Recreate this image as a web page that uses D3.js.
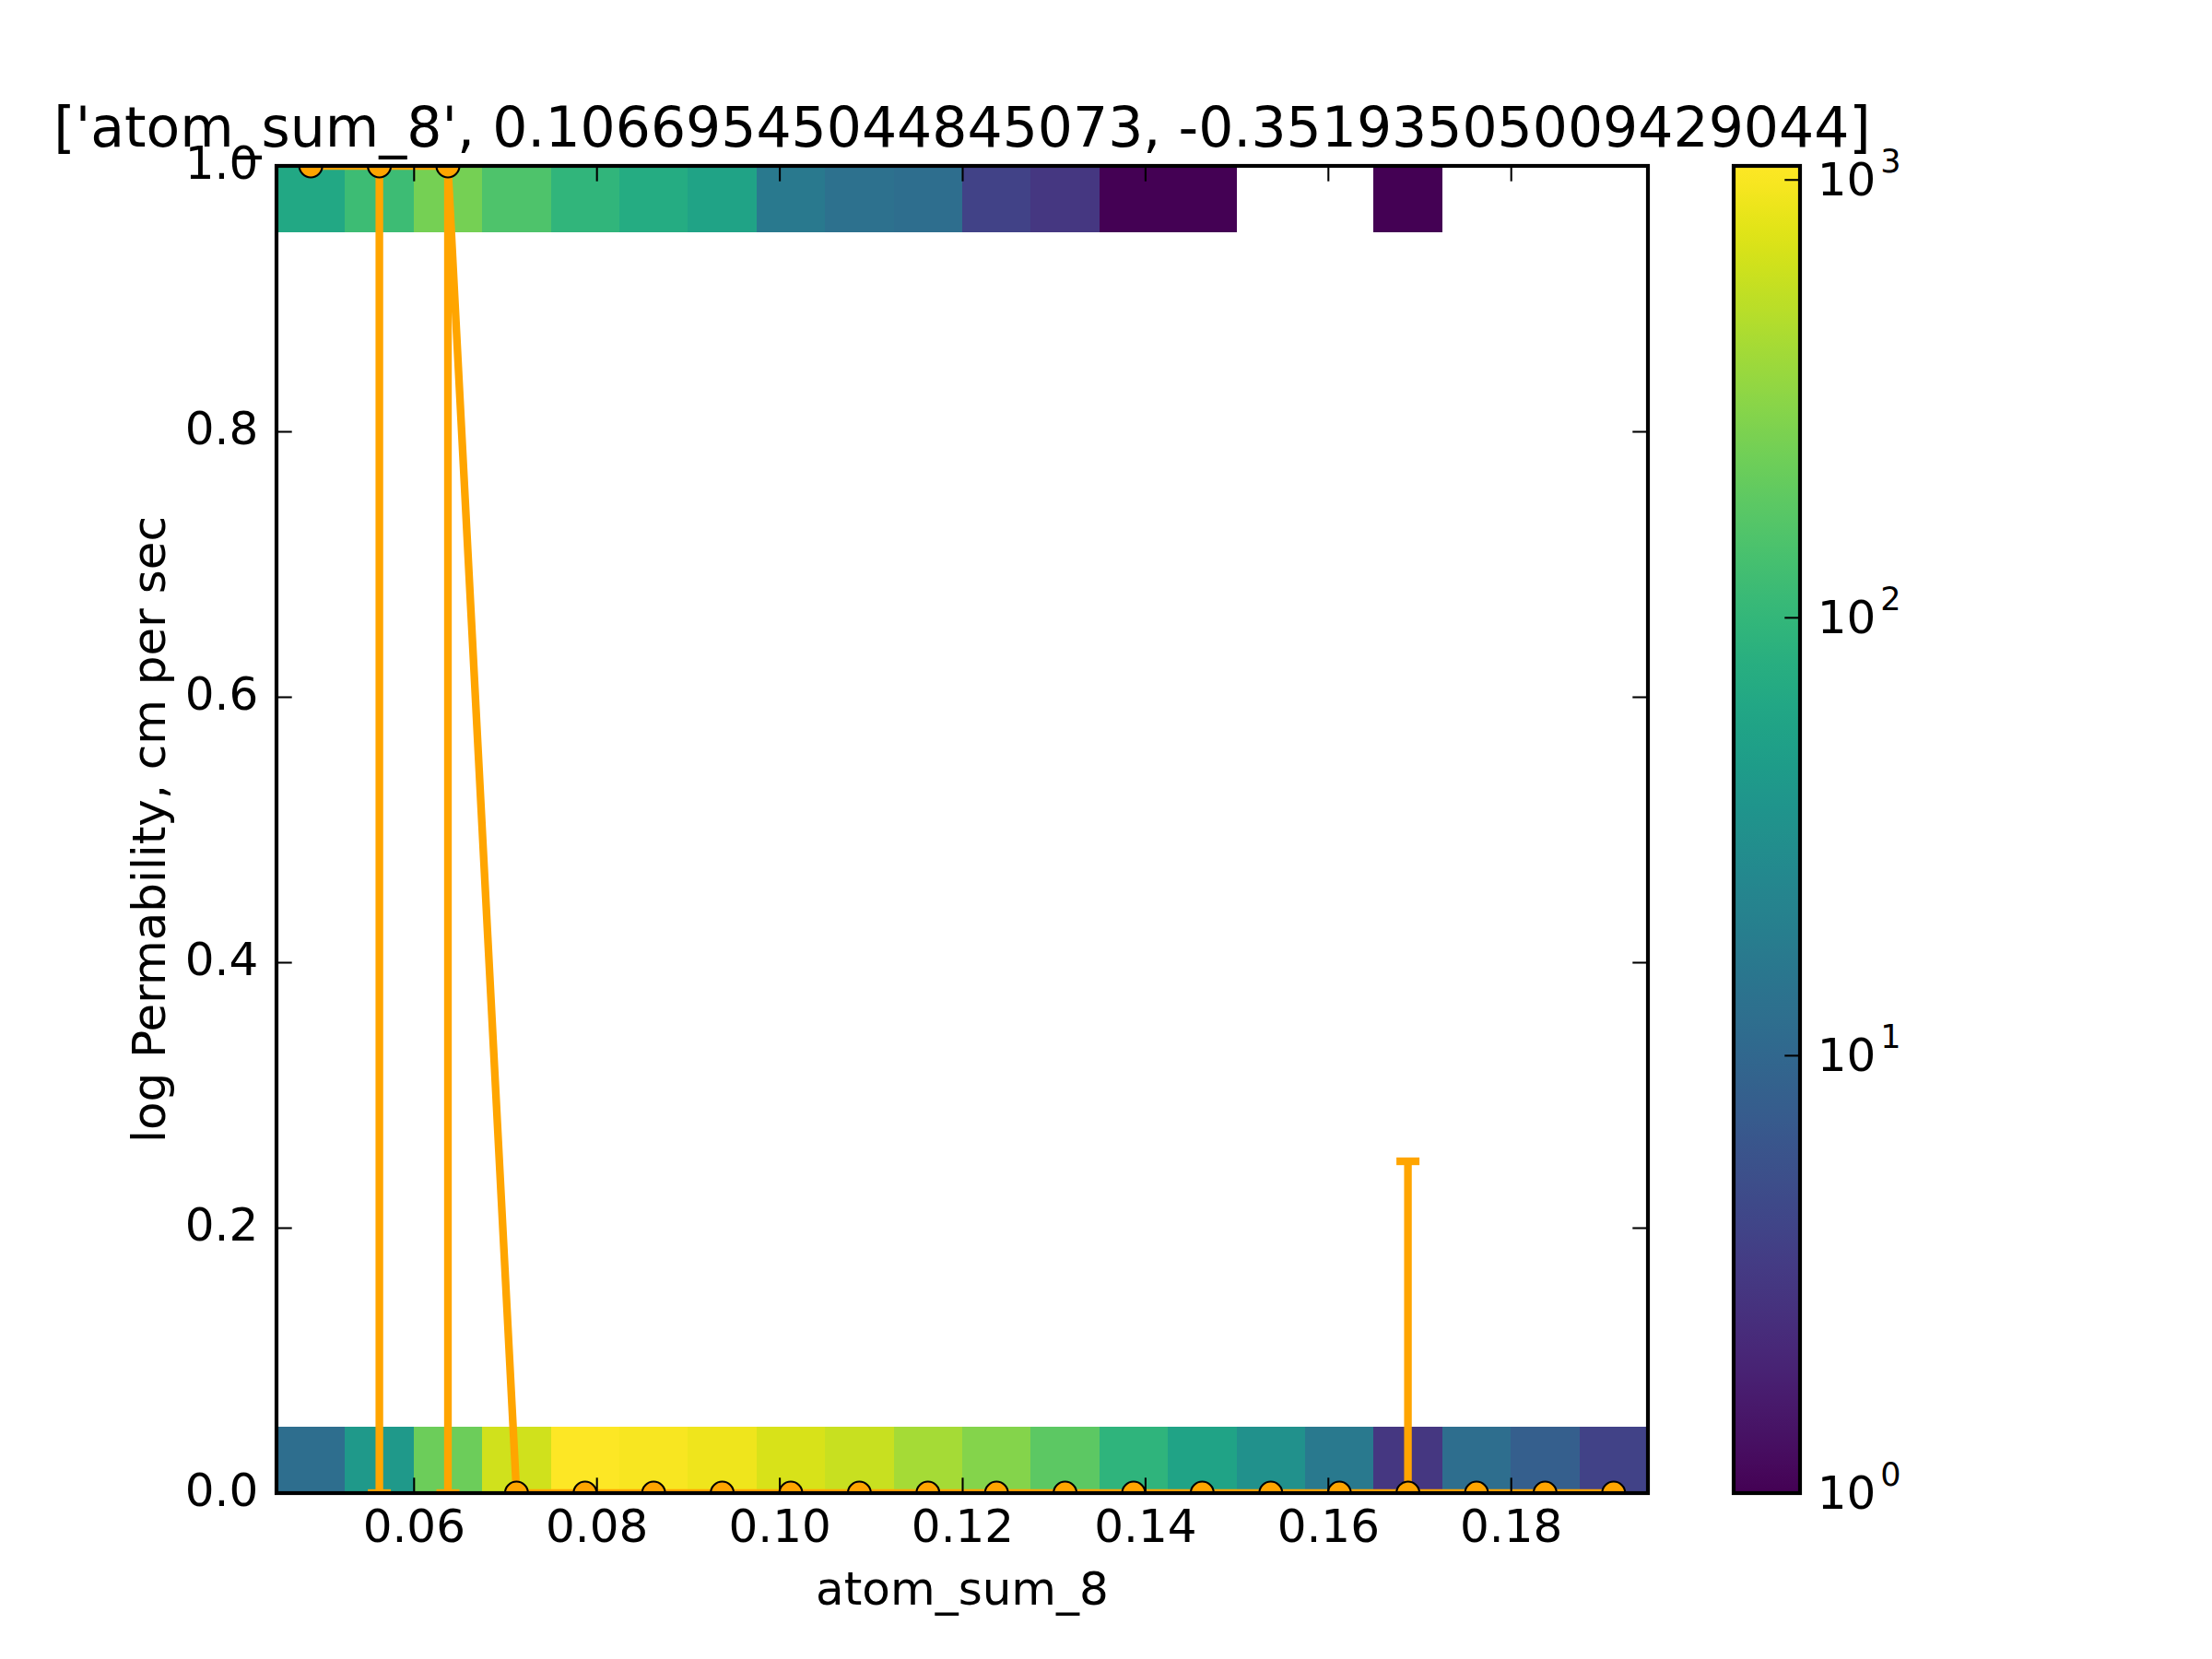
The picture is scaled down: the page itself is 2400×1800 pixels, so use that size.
<!DOCTYPE html>
<html>
<head>
<meta charset="utf-8">
<script src="https://cdn.jsdelivr.net/npm/d3@7"></script>
<style>
  body { margin: 0; background: #fff; }
  text { font-family: "DejaVu Sans", sans-serif; fill: #000; }
</style>
</head>
<body>
<div id="chart"></div>
<script>
// Bords des 20 classes en x (atom_sum_8)
const xEdges = [0.045, 0.0525, 0.06, 0.0675, 0.075, 0.0825, 0.09, 0.0975, 0.105, 0.1125, 0.12,
  0.1275, 0.135, 0.1425, 0.15, 0.1575, 0.165, 0.1725, 0.18, 0.1875, 0.195];

// Lignes non vides de l'histogramme 2D (y entre 0 et 0.05, et entre 0.95 et 1)
const rowLow = [0, 0.05];
const rowHigh = [0.95, 1.0];

const countsLow = [12, 43, 223, 657, 1074, 1000, 900, 705, 592, 418, 295, 187, 93, 57, 33, 17, 3, 12, 8, 4];
const countsHigh = [66, 119, 248, 151, 97, 73, 57, 17, 13, 12, 4, 3, 1, 1, 0, 0, 1, 0, 0, 0];

// Médiane et quartiles par classe
const medianY = [1, 1, 1, 0, 0, 0, 0, 0, 0, 0, 0, 0, 0, 0, 0, 0, 0, 0, 0, 0];
const q25 = [1, 0, 0, 0, 0, 0, 0, 0, 0, 0, 0, 0, 0, 0, 0, 0, 0, 0, 0, 0];
const q75 = [1, 1, 1, 0, 0, 0, 0, 0, 0, 0, 0, 0, 0, 0, 0, 0, 0.25, 0, 0, 0];

// Graduations
const xTicks = [0.06, 0.08, 0.10, 0.12, 0.14, 0.16, 0.18];
const yTicks = [0.0, 0.2, 0.4, 0.6, 0.8, 1.0];
const cbarTicks = [1, 10, 100, 1000];
const cbarExponents = ['0', '1', '2', '3'];
const countMax = 1074;

const titleText = "['atom_sum_8', 0.10669545044845073, -0.35193505009429044]";

const W = 2400, H = 1800;
const axL = 300, axR = 1788, axT = 180, axB = 1620;
const cbL = 1881, cbR = 1953;
const tickLen = 16.7;
const orange = '#ffa500';

const svg = d3.select('#chart')
  .append('svg')
  .attr('width', W)
  .attr('height', H)
  .attr('viewBox', [0, 0, W, H]);

const x = d3.scaleLinear().domain([xEdges[0], xEdges[xEdges.length - 1]]).range([axL, axR]);
const y = d3.scaleLinear().domain([0, 1]).range([axB, axT]);
const color = d3.scaleSequentialLog(d3.interpolateViridis).domain([1, countMax]);
const cy = d3.scaleLog().domain([1, countMax]).range([axB, axT]);

const centers = d3.range(xEdges.length - 1).map(i => (xEdges[i] + xEdges[i + 1]) / 2);

const defs = svg.append('defs');
defs.append('clipPath').attr('id', 'axclip')
  .append('rect')
  .attr('x', axL).attr('y', axT)
  .attr('width', axR - axL).attr('height', axB - axT);

// Cellules de l'histogramme
const cells = [];
[[rowLow, countsLow], [rowHigh, countsHigh]].forEach(([row, counts]) => {
  counts.forEach((c, i) => {
    if (c > 0) cells.push({ x0: xEdges[i], x1: xEdges[i + 1], y0: row[0], y1: row[1], c });
  });
});

svg.append('g')
  .attr('shape-rendering', 'crispEdges')
  .selectAll('rect')
  .data(cells)
  .enter()
  .append('rect')
  .attr('x', d => x(d.x0))
  .attr('width', d => x(d.x1) - x(d.x0) + 0.5)
  .attr('y', d => y(d.y1))
  .attr('height', d => y(d.y0) - y(d.y1))
  .attr('fill', d => color(d.c));

// Barres d'erreur, ligne des médianes, marqueurs
const plot = svg.append('g').attr('clip-path', 'url(#axclip)');

const stats = centers.map((cx, i) => ({ cx, m: medianY[i], lo: q25[i], hi: q75[i] }));

plot.selectAll('line.bar')
  .data(stats)
  .enter()
  .append('line')
  .attr('class', 'bar')
  .attr('x1', d => x(d.cx)).attr('x2', d => x(d.cx))
  .attr('y1', d => y(d.lo)).attr('y2', d => y(d.hi))
  .attr('stroke', orange)
  .attr('stroke-width', 8.33);

const caps = stats.flatMap(d => [{ cx: d.cx, v: d.lo }, { cx: d.cx, v: d.hi }]);
plot.selectAll('line.cap')
  .data(caps)
  .enter()
  .append('line')
  .attr('class', 'cap')
  .attr('x1', d => x(d.cx) - 12.5).attr('x2', d => x(d.cx) + 12.5)
  .attr('y1', d => y(d.v)).attr('y2', d => y(d.v))
  .attr('stroke', orange)
  .attr('stroke-width', 8.33);

const line = d3.line().x(d => x(d.cx)).y(d => y(d.m));
plot.append('path')
  .datum(stats)
  .attr('d', line)
  .attr('fill', 'none')
  .attr('stroke', orange)
  .attr('stroke-width', 8.33)
  .attr('stroke-linejoin', 'round');

plot.selectAll('circle')
  .data(stats)
  .enter()
  .append('circle')
  .attr('cx', d => x(d.cx))
  .attr('cy', d => y(d.m))
  .attr('r', 12.5)
  .attr('fill', orange)
  .attr('stroke', '#000')
  .attr('stroke-width', 2.08);

// Axes (graduations vers l'intérieur, style classique)
function styleAxis(g) {
  g.select('.domain').remove();
  g.selectAll('.tick line').attr('stroke', '#000').attr('stroke-width', 2.08);
  g.selectAll('.tick text')
    .attr('font-family', '"DejaVu Sans", sans-serif')
    .attr('font-size', 50)
    .attr('fill', '#000');
}

svg.append('g')
  .attr('transform', `translate(0,${axB})`)
  .call(d3.axisBottom(x).tickValues(xTicks).tickSize(-tickLen).tickSizeOuter(0)
    .tickPadding(tickLen).tickFormat(d3.format('.2f')))
  .call(styleAxis)
  .selectAll('.tick text').attr('dy', '0.73em');

svg.append('g')
  .attr('transform', `translate(0,${axT})`)
  .call(d3.axisTop(x).tickValues(xTicks).tickSize(-tickLen).tickSizeOuter(0).tickFormat(''))
  .call(styleAxis);

svg.append('g')
  .attr('transform', `translate(${axL},0)`)
  .call(d3.axisLeft(y).tickValues(yTicks).tickSize(-tickLen).tickSizeOuter(0)
    .tickPadding(tickLen + 3).tickFormat(d3.format('.1f')))
  .call(styleAxis)
  .selectAll('.tick text').attr('dy', '0.26em');

svg.append('g')
  .attr('transform', `translate(${axR},0)`)
  .call(d3.axisRight(y).tickValues(yTicks).tickSize(-tickLen).tickSizeOuter(0).tickFormat(''))
  .call(styleAxis);

// Cadre des axes
svg.append('rect')
  .attr('x', axL).attr('y', axT)
  .attr('width', axR - axL).attr('height', axB - axT)
  .attr('fill', 'none')
  .attr('stroke', '#000')
  .attr('stroke-width', 4.17);

// Titres
svg.append('text')
  .attr('x', (axL + axR) / 2)
  .attr('y', 159)
  .attr('text-anchor', 'middle')
  .attr('font-size', 60)
  .text(titleText);

svg.append('text')
  .attr('x', (axL + axR) / 2)
  .attr('y', 1741)
  .attr('text-anchor', 'middle')
  .attr('font-size', 50)
  .text('atom_sum_8');

svg.append('text')
  .attr('transform', `translate(179,${(axT + axB) / 2}) rotate(-90)`)
  .attr('text-anchor', 'middle')
  .attr('font-size', 50)
  .text('log Permability, cm per sec');

// Barre de couleur
const grad = defs.append('linearGradient')
  .attr('id', 'viridis')
  .attr('x1', 0).attr('y1', 1).attr('x2', 0).attr('y2', 0);
grad.selectAll('stop')
  .data(d3.range(0, 1.0001, 1 / 64))
  .enter()
  .append('stop')
  .attr('offset', d => d)
  .attr('stop-color', d => d3.interpolateViridis(d));

svg.append('rect')
  .attr('x', cbL).attr('y', axT)
  .attr('width', cbR - cbL).attr('height', axB - axT)
  .attr('fill', 'url(#viridis)');

svg.append('g')
  .attr('transform', `translate(${cbR},0)`)
  .call(d3.axisRight(cy).tickValues(cbarTicks).tickSize(-tickLen).tickSizeOuter(0).tickFormat(''))
  .call(styleAxis);

const cbLabels = svg.append('g')
  .selectAll('text')
  .data(cbarTicks)
  .enter()
  .append('text')
  .attr('x', cbR + tickLen + 2)
  .attr('y', d => cy(d) + 17)
  .attr('font-size', 50);
cbLabels.append('tspan').text('10');
cbLabels.append('tspan')
  .attr('dx', 5)
  .attr('dy', -25)
  .attr('font-size', 35)
  .text((d, i) => cbarExponents[i]);

svg.append('rect')
  .attr('x', cbL).attr('y', axT)
  .attr('width', cbR - cbL).attr('height', axB - axT)
  .attr('fill', 'none')
  .attr('stroke', '#000')
  .attr('stroke-width', 4.17);
</script>
</body>
</html>
